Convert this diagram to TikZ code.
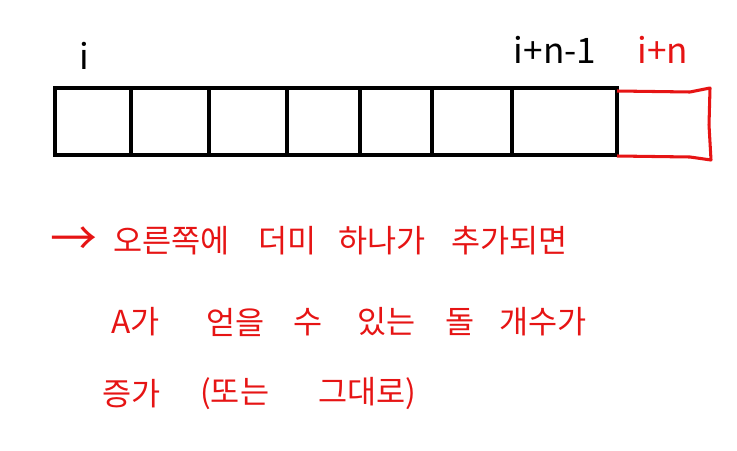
\documentclass[tikz,border=0pt]{standalone}
\usepackage{fontspec}
\newfontfamily\hangul{Noto Sans CJK KR}
\definecolor{pen}{RGB}{230,20,20}

\newcommand{\word}[3]{%
 \node[anchor=west] ({#1}) at ({#2}) {#3};%
}

\begin{document}
\begin{tikzpicture}[x=0.03cm,y=-0.03cm,
  every node/.style={inner sep=0pt,font=\hangul\fontsize{27}{32}\selectfont},
  lbl/.style={font=\hangul\fontsize{30}{34}\selectfont},
  note/.style={text=pen}]
   \useasboundingbox (0,0) rectangle (737,450);
   % array cells i .. i+n-1
   \draw[line width=3.4pt] (55,88) rectangle (617,155);
   \foreach \x in {131,209,287,360,432,512}
     \draw[line width=2.6pt] (\x,90) -- (\x,154);
   % new cell i+n
   \draw[pen,line width=2.6pt,line join=round]
     (617,91) -- (690,92) -- (710,88) -- (709,125) -- (711,160) -- (690,157) -- (617,156);
   \node[lbl,anchor=center] (li) at (84,56) {i};
   \node[lbl,anchor=center] (lend) at (555,50) {i+n-1};
   \node[lbl,anchor=center,text=pen] (lnew) at (663,50) {i+n};
   % note
   \begin{scope}[every node/.append style={note}]
   \word{a1}{50,241}{\fontsize{40}{40}\selectfont →}
   \word{a2}{113,241}{오른쪽에}
   \word{a3}{258,241}{더미}
   \word{a4}{338,241}{하나가}
   \word{a5}{451,241}{추가되면}
   \word{b1}{111,322}{A가}
   \word{b2}{206,322}{얻을}
   \word{b3}{293,322}{수}
   \word{b4}{357,322}{있는}
   \word{b5}{445,322}{돌}
   \word{b6}{499,322}{개수가}
   \word{c1}{102,394}{증가}
   \word{c2}{200,394}{(또는}
   \word{c3}{318,394}{그대로)}
   \end{scope}
  \end{tikzpicture}
\end{document}
